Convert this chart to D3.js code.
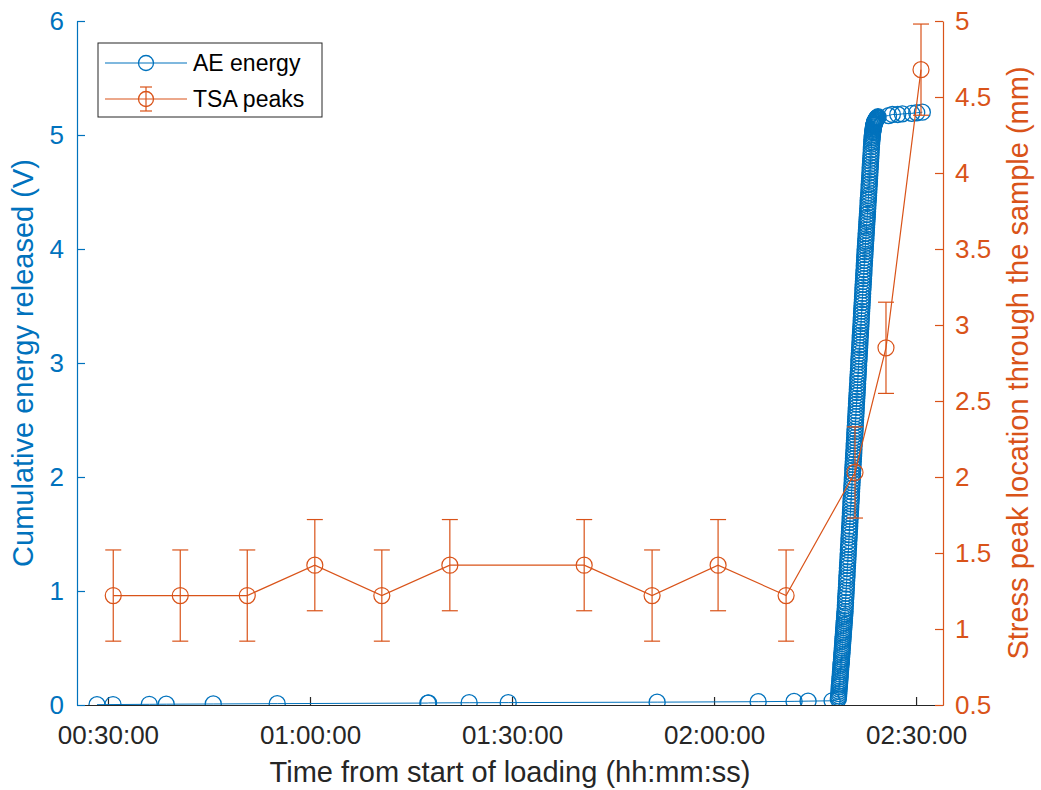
<!DOCTYPE html>
<html>
<head>
<meta charset="utf-8">
<script src="https://cdn.jsdelivr.net/npm/d3@7"></script>
<style>
body { margin: 0; background: #fff; }
text { font-family: 'Liberation Sans', Arial, Helvetica, sans-serif; }
</style>
</head>
<body>
<script>
// x axis: seconds from start of loading
const xLimits = [1524, 9240];
const xTickSeconds = [1800, 3600, 5400, 7200, 9000];
const xTickLabels = ['00:30:00', '01:00:00', '01:30:00', '02:00:00', '02:30:00'];
const leftTicks = [0, 1, 2, 3, 4, 5, 6];
const rightTicks = [0.5, 1, 1.5, 2, 2.5, 3, 3.5, 4, 4.5, 5];

// AE energy (cumulative, V)
const aeSeconds = [
    1702, 1845, 2168, 2319, 2738, 3308, 4650, 4656, 5018, 5366, 6693, 7593, 7913, 8038, 8252,
    8307, 8308.5, 8310, 8311.5, 8313, 8314.5, 8316, 8317.5, 8319, 8320.5, 8322, 8323.5, 8325, 8326.5, 8328, 8329.5,
    8331, 8332.5, 8334, 8335.5, 8337, 8338.5, 8340, 8341.5, 8343, 8344.5, 8346, 8347.5, 8349, 8350.5, 8352, 8353.5,
    8355, 8356.5, 8358, 8359.5, 8361, 8362.5, 8364, 8365.5, 8367, 8368.5, 8370, 8371.5, 8373, 8374.5, 8376, 8377.5,
    8379, 8380.5, 8382, 8383.5, 8385, 8386.5, 8388, 8389.5, 8391, 8392.5, 8394, 8395.5, 8397, 8398.5, 8400, 8401.5,
    8403, 8404.5, 8406, 8407.5, 8409, 8410.5, 8412, 8413.5, 8415, 8416.5, 8418, 8419.5, 8421, 8422.5, 8424, 8425.5,
    8427, 8428.5, 8430, 8431.5, 8433, 8434.5, 8436, 8437.5, 8439, 8440.5, 8442, 8443.5, 8445, 8446.5, 8448, 8449.5,
    8451, 8452.5, 8454, 8455.5, 8457, 8458.5, 8460, 8461.5, 8463, 8464.5, 8466, 8467.5, 8469, 8470.5, 8472, 8473.5,
    8475, 8476.5, 8478, 8479.5, 8481, 8482.5, 8484, 8485.5, 8487, 8488.5, 8490, 8491.5, 8493, 8494.5, 8496, 8497.5,
    8499, 8500.5, 8502, 8503.5, 8505, 8506.5, 8508, 8509.5, 8511, 8512.5, 8514, 8515.5, 8517, 8518.5, 8520, 8521.5,
    8523, 8524.5, 8526, 8527.5, 8529, 8530.5, 8532, 8533.5, 8535, 8536.5, 8538, 8539.5, 8541, 8542.5, 8544, 8545.5,
    8547, 8548.5, 8550, 8551.5, 8553, 8554.5, 8556, 8557.5, 8559, 8560.5, 8562, 8563.5, 8565, 8566.5, 8568, 8569.5,
    8571, 8572.5, 8574, 8575.5, 8577, 8578.5, 8580, 8581.5, 8583, 8584.5, 8586, 8587.5, 8589, 8590.5, 8592, 8593.5,
    8595, 8596.5, 8598, 8599.5, 8601, 8602.5, 8604, 8605.5, 8607, 8608.5, 8610, 8611.5, 8613, 8614.5, 8616, 8617.5,
    8619, 8620.5, 8622, 8623.5, 8625, 8626.5, 8628, 8629.5, 8631, 8632.5, 8634,
    8637, 8640, 8643, 8646, 8649, 8652, 8655, 8658, 8661,
    8755, 8789, 8837, 8878, 8962, 9006, 9056
];
const aeEnergy = [
    0.003, 0.004, 0.006, 0.007, 0.009, 0.012, 0.017, 0.018, 0.020, 0.021, 0.025, 0.029, 0.032, 0.034, 0.037,
    0.05, 0.065, 0.08, 0.10, 0.12, 0.14, 0.16, 0.175, 0.19, 0.21, 0.23, 0.25, 0.27, 0.29, 0.31, 0.33,
    0.35, 0.365, 0.38, 0.40, 0.42, 0.44, 0.46, 0.48, 0.50, 0.52, 0.54, 0.56, 0.58, 0.60, 0.62, 0.64,
    0.66, 0.68, 0.70, 0.72, 0.74, 0.76, 0.78, 0.80, 0.82, 0.845, 0.87, 0.90, 0.93, 0.955, 0.98, 1.005,
    1.03, 1.06, 1.09, 1.115, 1.14, 1.17, 1.20, 1.225, 1.25, 1.275, 1.30, 1.33, 1.36, 1.385, 1.41, 1.44,
    1.47, 1.495, 1.52, 1.545, 1.57, 1.60, 1.63, 1.655, 1.68, 1.71, 1.74, 1.765, 1.79, 1.815, 1.84, 1.87,
    1.90, 1.925, 1.95, 1.975, 2.00, 2.03, 2.06, 2.085, 2.11, 2.135, 2.16, 2.185, 2.21, 2.24, 2.27, 2.295,
    2.32, 2.345, 2.37, 2.395, 2.42, 2.45, 2.48, 2.505, 2.53, 2.555, 2.58, 2.61, 2.64, 2.665, 2.69, 2.715,
    2.74, 2.765, 2.79, 2.82, 2.85, 2.875, 2.90, 2.925, 2.95, 2.98, 3.01, 3.035, 3.06, 3.085, 3.11, 3.135,
    3.16, 3.19, 3.22, 3.245, 3.27, 3.295, 3.32, 3.345, 3.37, 3.40, 3.43, 3.455, 3.48, 3.505, 3.53, 3.555,
    3.58, 3.61, 3.64, 3.665, 3.69, 3.715, 3.74, 3.765, 3.79, 3.82, 3.85, 3.875, 3.90, 3.925, 3.95, 3.975,
    4.00, 4.025, 4.05, 4.07, 4.09, 4.115, 4.14, 4.165, 4.19, 4.215, 4.24, 4.26, 4.28, 4.305, 4.33, 4.355,
    4.38, 4.405, 4.43, 4.45, 4.47, 4.495, 4.52, 4.545, 4.57, 4.595, 4.62, 4.645, 4.67, 4.695, 4.72, 4.745,
    4.77, 4.795, 4.82, 4.845, 4.87, 4.895, 4.92, 4.94, 4.96, 4.975, 4.99, 5.005, 5.02, 5.03, 5.04, 5.05,
    5.06, 5.07, 5.08, 5.085, 5.09, 5.095, 5.10, 5.105, 5.11, 5.115, 5.12,
    5.125, 5.13, 5.135, 5.14, 5.145, 5.15, 5.15, 5.155, 5.16,
    5.17, 5.18, 5.18, 5.185, 5.19, 5.195, 5.20
];

// TSA stress peak location (mm) with error
const tsaSeconds = [1847, 2444, 3041, 3643, 4240, 4846, 6043, 6648, 7236, 7842, 8456, 8732, 9044];
const tsaPeak = [1.22, 1.22, 1.22, 1.42, 1.22, 1.42, 1.42, 1.22, 1.42, 1.22, 2.03, 2.85, 4.68];
const tsaErr = [0.3, 0.3, 0.3, 0.3, 0.3, 0.3, 0.3, 0.3, 0.3, 0.3, 0.3, 0.3, 0.3];

const width = 1041;
const height = 790;
const blue = '#0072BD';
const orange = '#D95319';
const dark = '#262626';
const m = { left: 77, right: 943, top: 21, bottom: 705 };

const svg = d3.select('body')
    .append('svg')
    .attr('width', width)
    .attr('height', height);

const x = d3.scaleLinear().domain(xLimits).range([m.left, m.right]);
const yL = d3.scaleLinear().domain([0, 6]).range([m.bottom, m.top]);
const yR = d3.scaleLinear().domain([0.5, 5]).range([m.bottom, m.top]);

svg.append('clipPath').attr('id', 'plot')
    .append('rect')
    .attr('x', m.left).attr('y', m.top)
    .attr('width', m.right - m.left).attr('height', m.bottom - m.top);

// axes
const styleAxis = (g, color, size) => {
    g.select('.domain').attr('stroke', color).attr('stroke-width', 1.2);
    g.selectAll('.tick line').attr('stroke', color).attr('stroke-width', 1.2);
    g.selectAll('.tick text').attr('fill', color).attr('font-size', size).attr('font-family', null);
};

svg.append('g')
    .attr('transform', `translate(0,${m.bottom})`)
    .call(d3.axisBottom(x).tickValues(xTickSeconds).tickFormat((d, i) => xTickLabels[i])
        .tickSize(-8).tickSizeOuter(0).tickPadding(21))
    .call(g => styleAxis(g, dark, 26));

svg.append('g')
    .attr('transform', `translate(${m.left},0)`)
    .call(d3.axisLeft(yL).tickValues(leftTicks).tickFormat(d => String(d))
        .tickSize(-8).tickSizeOuter(0).tickPadding(13))
    .call(g => styleAxis(g, blue, 26));

svg.append('g')
    .attr('transform', `translate(${m.right},0)`)
    .call(d3.axisRight(yR).tickValues(rightTicks).tickFormat(d => String(d))
        .tickSize(-8).tickSizeOuter(0).tickPadding(12))
    .call(g => styleAxis(g, orange, 26));

// labels
svg.append('text')
    .attr('x', (m.left + m.right) / 2)
    .attr('y', 782)
    .attr('text-anchor', 'middle')
    .attr('font-size', 29)
    .attr('fill', dark)
    .text('Time from start of loading (hh:mm:ss)');

svg.append('text')
    .attr('transform', `translate(33,${(m.top + m.bottom) / 2}) rotate(-90)`)
    .attr('text-anchor', 'middle')
    .attr('font-size', 29)
    .attr('fill', blue)
    .text('Cumulative energy released (V)');

svg.append('text')
    .attr('transform', `translate(1028,${(m.top + m.bottom) / 2}) rotate(-90)`)
    .attr('text-anchor', 'middle')
    .attr('font-size', 29)
    .attr('fill', orange)
    .text('Stress peak location through the sample (mm)');

// AE energy series
const ae = svg.append('g').attr('clip-path', 'url(#plot)');
const aeIdx = d3.range(aeSeconds.length);

ae.append('path')
    .attr('d', d3.line().x(i => x(aeSeconds[i])).y(i => yL(aeEnergy[i]))(aeIdx))
    .attr('fill', 'none')
    .attr('stroke', blue)
    .attr('stroke-width', 1);

ae.selectAll('circle')
    .data(aeIdx)
    .enter()
    .append('circle')
    .attr('cx', i => x(aeSeconds[i]))
    .attr('cy', i => yL(aeEnergy[i]))
    .attr('r', 8)
    .attr('fill', 'none')
    .attr('stroke', blue)
    .attr('stroke-width', 1.3);

// TSA peaks series
const tsa = svg.append('g').attr('clip-path', 'url(#plot)');
const tsaIdx = d3.range(tsaSeconds.length);

tsa.append('path')
    .attr('d', d3.line().x(i => x(tsaSeconds[i])).y(i => yR(tsaPeak[i]))(tsaIdx))
    .attr('fill', 'none')
    .attr('stroke', orange)
    .attr('stroke-width', 1.2);

const bars = tsa.selectAll('g.err')
    .data(tsaIdx)
    .enter()
    .append('g')
    .attr('class', 'err')
    .attr('stroke', orange)
    .attr('stroke-width', 1.2);

bars.append('line')
    .attr('x1', i => x(tsaSeconds[i])).attr('x2', i => x(tsaSeconds[i]))
    .attr('y1', i => yR(tsaPeak[i] - tsaErr[i])).attr('y2', i => yR(tsaPeak[i] + tsaErr[i]));
bars.append('line')
    .attr('x1', i => x(tsaSeconds[i]) - 8).attr('x2', i => x(tsaSeconds[i]) + 8)
    .attr('y1', i => yR(tsaPeak[i] - tsaErr[i])).attr('y2', i => yR(tsaPeak[i] - tsaErr[i]));
bars.append('line')
    .attr('x1', i => x(tsaSeconds[i]) - 8).attr('x2', i => x(tsaSeconds[i]) + 8)
    .attr('y1', i => yR(tsaPeak[i] + tsaErr[i])).attr('y2', i => yR(tsaPeak[i] + tsaErr[i]));
bars.append('circle')
    .attr('cx', i => x(tsaSeconds[i]))
    .attr('cy', i => yR(tsaPeak[i]))
    .attr('r', 8)
    .attr('fill', 'none');

// legend
const lg = svg.append('g').attr('transform', 'translate(98,43)');
lg.append('rect')
    .attr('width', 224).attr('height', 74)
    .attr('fill', '#fff').attr('stroke', dark).attr('stroke-width', 1);

const entries = [
    { name: 'AE energy', color: blue, err: false, y: 20 },
    { name: 'TSA peaks', color: orange, err: true, y: 56 }
];
const row = lg.selectAll('g.row')
    .data(entries)
    .enter()
    .append('g')
    .attr('class', 'row')
    .attr('transform', d => `translate(0,${d.y})`);

row.append('line')
    .attr('x1', 7).attr('x2', 89)
    .attr('stroke', d => d.color).attr('stroke-width', 1.2);
row.append('circle')
    .attr('cx', 48).attr('r', 7.5)
    .attr('fill', 'none').attr('stroke', d => d.color).attr('stroke-width', 1.3);
row.filter(d => d.err).each(function (d) {
    const g = d3.select(this).attr('stroke', d.color).attr('stroke-width', 1.2);
    g.append('line').attr('x1', 48).attr('x2', 48).attr('y1', -12).attr('y2', 12);
    g.append('line').attr('x1', 42).attr('x2', 54).attr('y1', -12).attr('y2', -12);
    g.append('line').attr('x1', 42).attr('x2', 54).attr('y1', 12).attr('y2', 12);
});
row.append('text')
    .attr('x', 95)
    .attr('dy', '0.36em')
    .attr('font-size', 23)
    .attr('fill', '#000')
    .attr('stroke', 'none')
    .text(d => d.name);
</script>
</body>
</html>
